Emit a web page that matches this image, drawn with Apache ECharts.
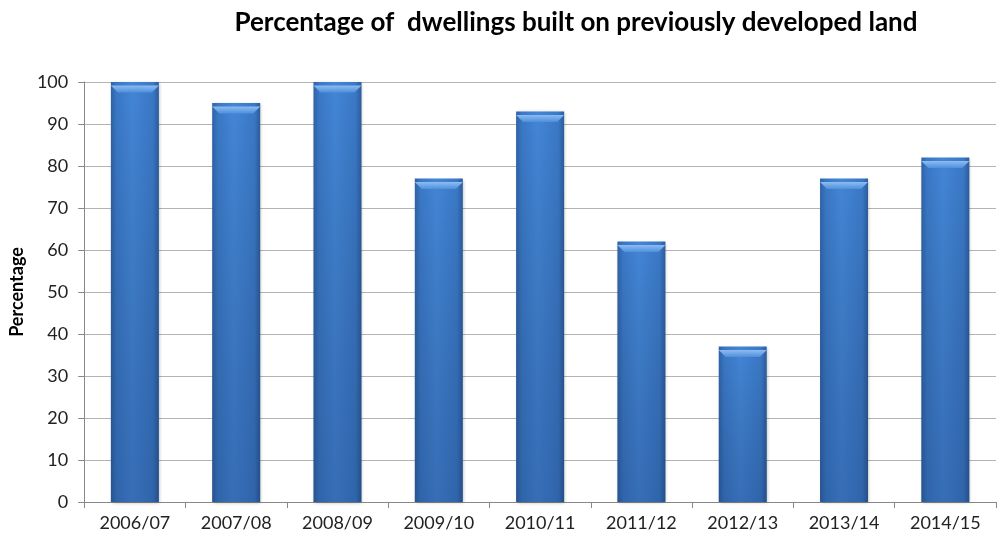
<!DOCTYPE html>
<html>
<head>
<meta charset="utf-8">
<script src="https://cdn.jsdelivr.net/npm/echarts@6/dist/echarts.min.js"></script>
<style>
    html, body { margin: 0; padding: 0; background: #fff; }
    #chart { width: 998px; height: 539px; }
</style>
</head>
<body>
<div id="chart"></div>
<script>
var years = ['2006/07', '2007/08', '2008/09', '2009/10', '2010/11', '2011/12', '2012/13', '2013/14', '2014/15'];
var percentage = [100, 95, 100, 77, 93, 62, 37, 77, 82];
var yTicks = { min: 0, max: 100, interval: 10 };

var fontFamily = 'Lato, "Open Sans", sans-serif';

// side-to-side shading of the bars
var barFill = new echarts.graphic.LinearGradient(0, 0, 1, 0, [
    { offset: 0, color: '#2f62a6' },
    { offset: 0.12, color: '#3a78c6' },
    { offset: 0.45, color: '#4385d6' },
    { offset: 0.88, color: '#3a78c6' },
    { offset: 1, color: '#2c5c9c' }
]);
// darker towards the bottom
var barShade = new echarts.graphic.LinearGradient(0, 0, 0, 1, [
    { offset: 0, color: 'rgba(0,0,0,0)' },
    { offset: 1, color: 'rgba(10,30,70,0.22)' }
]);
var bevel = new echarts.graphic.LinearGradient(0, 0, 0, 1, [
    { offset: 0, color: '#8cbcf0' },
    { offset: 1, color: '#4f8fdc' }
]);

var chart = echarts.init(document.getElementById('chart'));

var option = {
    animation: false,
    title: {
        text: 'Percentage of  dwellings built on previously developed land',
        left: 571,
        top: 5,
        textAlign: 'center',
        textStyle: {
            fontFamily: fontFamily,
            fontWeight: 'bold',
            fontSize: 26,
            color: '#000'
        }
    },
    grid: {
        left: 80,
        right: 2,
        top: 82,
        bottom: 37
    },
    xAxis: {
        type: 'category',
        data: years,
        axisLine: { lineStyle: { color: '#888', width: 1 } },
        axisTick: { show: true, alignWithLabel: false, length: 6, lineStyle: { color: '#888' } },
        axisLabel: {
            fontFamily: fontFamily,
            fontSize: 18,
            color: '#222',
            margin: 12,
            interval: 0
        }
    },
    yAxis: {
        type: 'value',
        min: yTicks.min,
        max: yTicks.max,
        interval: yTicks.interval,
        name: 'Percentage',
        nameLocation: 'middle',
        nameGap: 58,
        nameRotate: 90,
        nameTextStyle: {
            fontFamily: fontFamily,
            fontWeight: 'bold',
            fontSize: 18,
            color: '#000'
        },
        axisLine: { show: true, lineStyle: { color: '#888', width: 1 } },
        axisTick: { show: true, length: 6, lineStyle: { color: '#888' } },
        axisLabel: {
            fontFamily: fontFamily,
            fontSize: 18,
            color: '#222',
            margin: 16
        },
        splitLine: { lineStyle: { color: '#b4b4b4', width: 1 } }
    },
    series: [
        {
            type: 'bar',
            data: percentage,
            barWidth: 48,
            itemStyle: {
                color: barFill,
                shadowColor: 'rgba(0,0,0,0.25)',
                shadowBlur: 3,
                shadowOffsetX: 1,
                shadowOffsetY: 1
            },
            z: 2
        },
        {
            type: 'bar',
            data: percentage,
            barWidth: 48,
            barGap: '-100%',
            silent: true,
            itemStyle: { color: barShade },
            z: 3
        },
        {
            type: 'pictorialBar',
            data: percentage,
            symbol: 'path://M0,0 L48,0 L41,7 L7,7 Z',
            symbolSize: [48, 7],
            symbolPosition: 'end',
            symbolOffset: [0, '50%'],
            silent: true,
            itemStyle: { color: bevel },
            z: 4
        }
    ]
};

chart.setOption(option);
</script>
</body>
</html>
